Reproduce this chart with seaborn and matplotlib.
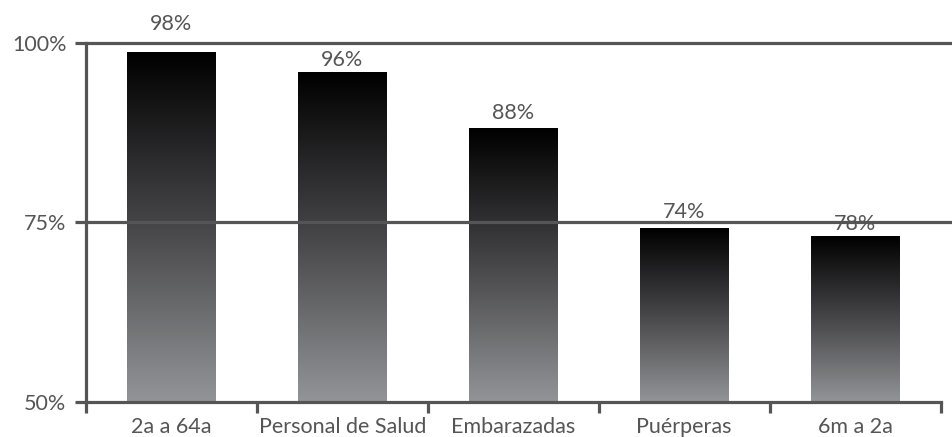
import numpy as np
import pandas as pd
import matplotlib
matplotlib.use("Agg")
import matplotlib.pyplot as plt
import seaborn as sns
from matplotlib.colors import LinearSegmentedColormap

# datos
categorias = ["2a a 64a", "Personal de Salud", "Embarazadas", "Puérperas", "6m a 2a"]
valores = [98.7, 95.8, 88.0, 74.1, 73.1]
etiquetas = ["98%", "96%", "88%", "74%", "78%"]
y_ticks = [50, 75, 100]
y_tick_labels = ["50%", "75%", "100%"]

# separación de cada etiqueta sobre la barra (puntos)
desfase = [13, 2, 4, 5, 1.5]

sns.set_theme(style="white")
plt.rcParams["font.family"] = ["Lato", "DejaVu Sans"]

gris = "#555555"
fs = 15.5
df = pd.DataFrame({"cat": categorias, "val": valores})

fig = plt.figure(figsize=(9.53, 4.37), dpi=100)
ax = fig.add_axes([0.090, 0.080, 0.897, 0.822])

sns.barplot(data=df, x="cat", y="val", color="white", width=0.52, ax=ax,
            linewidth=0, zorder=2)
ax.set_ylim(50, 100)
ax.set_xlim(-0.5, len(categorias) - 0.5)

# degradado negro -> gris en cada barra
cmap = LinearSegmentedColormap.from_list("grad", ["#000000", "#47474a", "#939497"])
grad = np.linspace(0, 1, 256).reshape(-1, 1)
for p in ax.patches:
    x0 = p.get_x()
    w = p.get_width()
    top = p.get_y() + p.get_height()
    ax.imshow(grad, cmap=cmap, aspect="auto", extent=[x0, x0 + w, 50, top],
              origin="upper", zorder=3)
ax.set_xlim(-0.5, len(categorias) - 0.5)
ax.set_ylim(50, 100)

# líneas horizontales
for yv in [75, 100]:
    ax.axhline(yv, xmin=0, xmax=1.013, color=gris, lw=2.3, zorder=4, clip_on=False)

# ejes
for s in ["top", "right"]:
    ax.spines[s].set_visible(False)
for s in ["left", "bottom"]:
    ax.spines[s].set_color(gris)
    ax.spines[s].set_linewidth(2.3)
    ax.spines[s].set_zorder(5)

ax.set_yticks(y_ticks)
ax.set_yticklabels(y_tick_labels)
ax.tick_params(axis="y", length=8, width=2.3, color=gris, labelcolor=gris,
               labelsize=fs, pad=6, left=True, direction="out")

ax.set_xticks(np.arange(-0.5, len(categorias), 1.0))
ax.set_xticklabels([])
ax.tick_params(axis="x", which="major", length=8, width=2.3, color=gris,
               bottom=True, direction="out")
ax.set_xticks(np.arange(len(categorias)), minor=True)
ax.set_xticklabels(categorias, minor=True)
ax.tick_params(axis="x", which="minor", length=0, labelcolor=gris,
               labelsize=fs, pad=11)

ax.set_xlabel("")
ax.set_ylabel("")

for i, (v, t) in enumerate(zip(valores, etiquetas)):
    ax.annotate(t, (i, v), xytext=(0, desfase[i]), textcoords="offset points",
                ha="center", va="bottom", fontsize=fs, color=gris,
                zorder=6, annotation_clip=False)

fig.savefig("out.png", dpi=100)
